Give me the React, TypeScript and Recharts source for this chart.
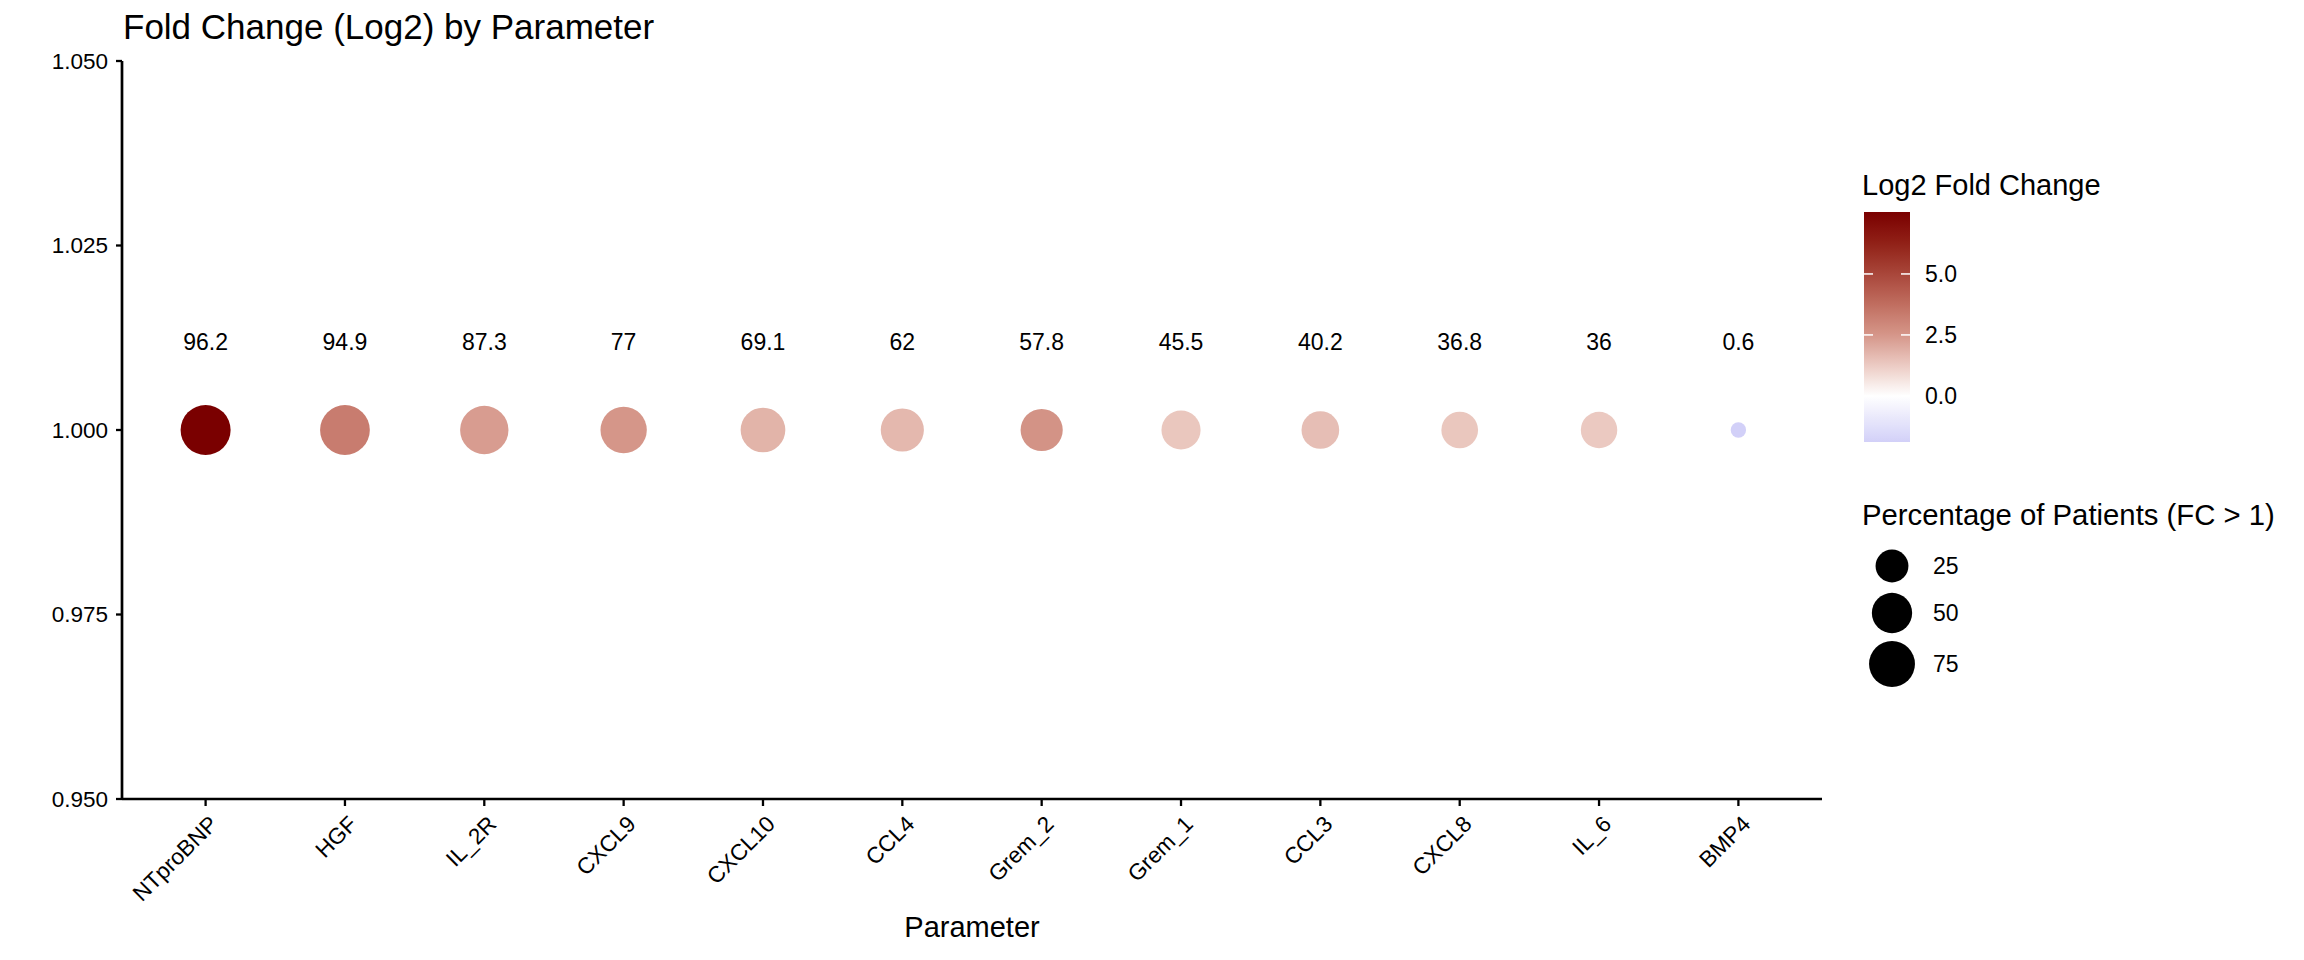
import React from 'react';
import { ScatterChart, Scatter, XAxis, YAxis, ZAxis } from 'recharts';

// ---------- data ----------
const PARAMETERS = ['NTproBNP', 'HGF', 'IL_2R', 'CXCL9', 'CXCL10', 'CCL4', 'Grem_2', 'Grem_1', 'CCL3', 'CXCL8', 'IL_6', 'BMP4'];
const PCT_FC_GT1 = [96.2, 94.9, 87.3, 77, 69.1, 62, 57.8, 45.5, 40.2, 36.8, 36, 0.6];
const LOG2_FC = [7.54, 3.3, 2.35, 2.5, 1.8, 1.7, 2.6, 1.35, 1.55, 1.35, 1.3, -1.89];
const Y_VALUE = 1;
const LABEL_Y = 1.012;
const Y_TICKS = [0.95, 0.975, 1.0, 1.025, 1.05];
const COLOR_TICKS = [0, 2.5, 5.0];
const SIZE_TICKS = [25, 50, 75];

// ---------- styling ----------
const FONT = '"Liberation Sans", Arial, Helvetica, sans-serif';
const W = 2304;
const H = 960;
const R_MIN = 7.7;
const R_MAX = 25;
const TICK_FS = 22.5;

const FILL_STOPS: [number, [number, number, number]][] = [
  [-1.89, [210, 208, 248]],
  [0, [255, 255, 255]],
  [1.25, [236, 203, 195]],
  [2.5, [213, 150, 137]],
  [3.75, [192, 110, 96]],
  [5, [169, 70, 58]],
  [6.3, [144, 32, 22]],
  [7.54, [122, 0, 0]],
];

const FC_MIN = Math.min(...LOG2_FC);
const FC_MAX = Math.max(...LOG2_FC);
const PCT_MIN = Math.min(...PCT_FC_GT1);
const PCT_MAX = Math.max(...PCT_FC_GT1);

function rgb(c: number[]) {
  return `rgb(${Math.round(c[0])},${Math.round(c[1])},${Math.round(c[2])})`;
}
function fillFor(v: number): string {
  const s = FILL_STOPS;
  if (v <= s[0][0]) return rgb(s[0][1]);
  for (let i = 1; i < s.length; i++) {
    if (v <= s[i][0]) {
      const f = (v - s[i - 1][0]) / (s[i][0] - s[i - 1][0]);
      const a = s[i - 1][1];
      const b = s[i][1];
      return rgb([a[0] + (b[0] - a[0]) * f, a[1] + (b[1] - a[1]) * f, a[2] + (b[2] - a[2]) * f]);
    }
  }
  return rgb(s[s.length - 1][1]);
}
function radiusFromUnit(t: number) {
  return R_MIN + (R_MAX - R_MIN) * Math.sqrt(Math.max(0, Math.min(1, t)));
}

const pointData = PARAMETERS.map((p, i) => ({
  idx: i,
  param: p,
  y: Y_VALUE,
  pct: PCT_FC_GT1[i],
  fc: LOG2_FC[i],
}));
const labelData = PARAMETERS.map((p, i) => ({
  idx: i,
  y: LABEL_Y,
  label: String(PCT_FC_GT1[i]),
}));

const Dot = (props: any) => {
  const { cx, cy, size, payload } = props;
  if (cx == null || cy == null) return null;
  const r = radiusFromUnit(typeof size === 'number' ? size : 0);
  return <circle cx={cx} cy={cy} r={r} fill={fillFor(payload.fc)} />;
};

const LabelMark = (props: any) => {
  const { cx, cy, payload } = props;
  if (cx == null || cy == null) return null;
  return (
    <text x={cx} y={cy} dy="0.36em" textAnchor="middle" fontSize={23} fontFamily={FONT} fill="#000">
      {payload.label}
    </text>
  );
};

const XTick = (props: any) => {
  const { x, y, payload } = props;
  const ax = x + 2;
  const ay = y + 6;
  return (
    <text
      x={ax}
      y={ay}
      dy="0.72em"
      transform={`rotate(-45 ${ax} ${ay})`}
      textAnchor="end"
      fontSize={TICK_FS}
      fontFamily={FONT}
      fill="#000"
    >
      {PARAMETERS[payload.value]}
    </text>
  );
};

// colour bar geometry
const CB_X = 1864;
const CB_W = 46;
const CB_TOP = 212;
const CB_BOTTOM = 442;
const cbY = (v: number) => CB_BOTTOM - ((v - FC_MIN) / (FC_MAX - FC_MIN)) * (CB_BOTTOM - CB_TOP);
const CB_SAMPLES = Array.from({ length: 41 }, (_, k) => k / 40);

const SIZE_LEGEND_Y = [566, 613, 664];

export default function App() {
  return (
    <div style={{ position: 'absolute', left: 0, top: 0, width: W, height: H, background: '#fff' }}>
      <ScatterChart width={W} height={H} margin={{ top: 61, right: 482, bottom: 0, left: 0 }}>
        <XAxis
          type="number"
          dataKey="idx"
          domain={[-0.6, 11.6]}
          allowDataOverflow
          ticks={PARAMETERS.map((_, i) => i)}
          interval={0}
          tick={<XTick />}
          tickSize={7}
          tickMargin={2}
          tickLine={{ stroke: '#000', strokeWidth: 2.3 }}
          axisLine={{ stroke: '#000', strokeWidth: 2.7 }}
          height={161}
        />
        <YAxis
          type="number"
          dataKey="y"
          domain={[0.95, 1.05]}
          allowDataOverflow
          ticks={Y_TICKS}
          interval={0}
          tickFormatter={(v: number) => v.toFixed(3)}
          width={122}
          tickSize={6}
          tickMargin={8}
          tick={{ fill: '#000', fontSize: TICK_FS, fontFamily: FONT }}
          tickLine={{ stroke: '#000', strokeWidth: 2.3 }}
          axisLine={{ stroke: '#000', strokeWidth: 2.7 }}
        />
        <ZAxis type="number" dataKey="pct" domain={[PCT_MIN, PCT_MAX]} range={[0, 1]} />
        <Scatter data={pointData} shape={<Dot />} isAnimationActive={false} />
        <Scatter data={labelData} shape={<LabelMark />} isAnimationActive={false} />
      </ScatterChart>

      <svg
        width={W}
        height={H}
        style={{ position: 'absolute', left: 0, top: 0, pointerEvents: 'none' }}
        fontFamily={FONT}
      >
        <defs>
          <linearGradient id="cbGrad" x1="0" y1="1" x2="0" y2="0">
            {CB_SAMPLES.map((f) => (
              <stop key={f} offset={f} stopColor={fillFor(FC_MIN + f * (FC_MAX - FC_MIN))} />
            ))}
          </linearGradient>
        </defs>
        <text x={123} y={39} fontSize={35} fill="#000">
          Fold Change (Log2) by Parameter
        </text>
        <text x={972} y={937} fontSize={29} fill="#000" textAnchor="middle">
          Parameter
        </text>

        {/* colour legend */}
        <text x={1862} y={195} fontSize={29} fill="#000">
          Log2 Fold Change
        </text>
        <rect x={CB_X} y={CB_TOP} width={CB_W} height={CB_BOTTOM - CB_TOP} fill="url(#cbGrad)" />
        {COLOR_TICKS.map((t) => (
          <g key={t}>
            <line x1={CB_X} x2={CB_X + 9} y1={cbY(t)} y2={cbY(t)} stroke="#fff" strokeWidth={1.5} />
            <line x1={CB_X + CB_W - 9} x2={CB_X + CB_W} y1={cbY(t)} y2={cbY(t)} stroke="#fff" strokeWidth={1.5} />
            <text x={1925} y={cbY(t)} dy="0.36em" fontSize={23} fill="#000">
              {t.toFixed(1)}
            </text>
          </g>
        ))}

        {/* size legend */}
        <text x={1862} y={525} fontSize={29.3} fill="#000">
          Percentage of Patients (FC &gt; 1)
        </text>
        {SIZE_TICKS.map((s, i) => (
          <g key={s}>
            <circle
              cx={1892}
              cy={SIZE_LEGEND_Y[i]}
              r={radiusFromUnit((s - PCT_MIN) / (PCT_MAX - PCT_MIN))}
              fill="#000"
            />
            <text x={1933} y={SIZE_LEGEND_Y[i]} dy="0.36em" fontSize={23} fill="#000">
              {s}
            </text>
          </g>
        ))}
      </svg>
    </div>
  );
}
